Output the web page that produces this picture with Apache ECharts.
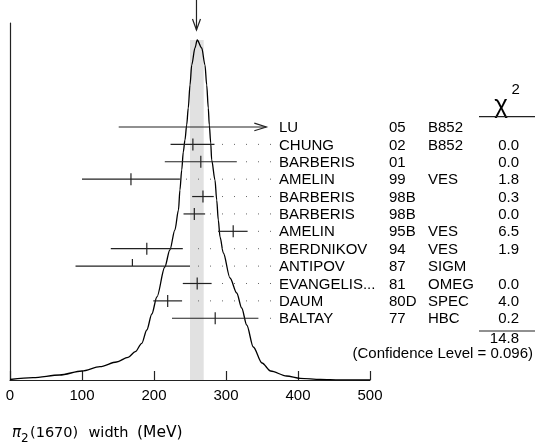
<!DOCTYPE html>
<html><head><meta charset="utf-8">
<script src="https://cdn.jsdelivr.net/npm/echarts@6/dist/echarts.min.js"></script>
<style>html,body{margin:0;padding:0;background:#fff}#c{width:535px;height:446px}</style>
</head><body><div id="c"></div>
<script>
// ---- data ----
const names = ['LU','CHUNG','BARBERIS','AMELIN','BARBERIS','BARBERIS','AMELIN','BERDNIKOV','ANTIPOV','EVANGELIS...','DAUM','BALTAY'];
const years = ['05','02','01','99','98B','98B','95B','94','87','81','80D','77'];
const experiments = ['B852','B852','','VES','','','VES','VES','SIGM','OMEG','SPEC','HBC'];
const chi2 = ['','0.0','0.0','1.8','0.3','0.0','6.5','1.9','','0.0','4.0','0.2'];
const centralValues = [null,254,265,168,268,256,310,190,170,260,219,285];
const lowerEnds = [151,223,215,100,253,241,289,140,91,240,199,225];
const upperEnds = [356,284,315,236,283,271,330,240,250,280,239,345];
const markKinds = ['arrow','full','full','full','full','full','full','full','half','full','full','full'];
const chi2Total = '14.8';
const confidenceLevel = '0.096';
const fitValue = 259;
const bandLow = 250, bandHigh = 269;
const xTicks = [0,100,200,300,400,500];
const ideogramX = [0,32,69,100,125,148,164,174,183,190,197,204,215,222,229,234,236,238.5,240.7,243,245.4,247.6,250,252.4,256.9,260,266.3,270.8,273.2,275.4,276.8,278.8,280.1,284.7,287.1,289.3,291.7,296.3,305.6,314.9,321.8,328.8,337.9,350,362,384,403,431,458,500];
const ideogramY = [0.5,2.3,5,9,13.3,18,22.7,28.3,36.7,50,66,83,113,130,150,170,190,210,228,240,255,272,295,315,332,340,332,315,295,272,255,237,220,200,180,160,143,127,102,87,72,55,33,17,9,4,1.7,0.7,0.2,0];

// ---- layout ----
const FONT = 'Liberation Sans, Arial, sans-serif';
const FS = 15;
const COL_NAME = 279, COL_YEAR = 389, COL_EXP = 428, COL_CHI_R = 519;
const LEADER_END = 271;
const INK = '#222';

const chart = echarts.init(document.getElementById('c'), null, {renderer:'canvas'});

function txt(text, x, y, align, font){
  return {type:'text', style:{text:text, x:x, y:y, fill:'#000', font: font || (FS+'px '+FONT),
    align:align, verticalAlign:'middle', textAlign:align, textVerticalAlign:'middle'}};
}

function renderRow(params, api){
  const i = api.value(3);
  const y = api.coord([0, i])[1];
  const xl = api.coord([api.value(0), i])[0];
  const xh = api.coord([api.value(1), i])[0];
  const xc = api.coord([api.value(2), i])[0];
  const kind = markKinds[i];
  const ch = [];
  ch.push({type:'line', shape:{x1:xl,y1:y,x2:xh,y2:y}, style:{stroke:INK, lineWidth:1.2}});
  if (kind === 'arrow') {
    ch.push({type:'polyline', shape:{points:[[xh-12,y-3.8],[xh,y],[xh-12,y+3.8]]}, style:{stroke:INK, fill:'none', lineWidth:1.2}});
  } else {
    ch.push({type:'line', shape:{x1:xc,y1:y-(kind==='half'?7:6),x2:xc,y2:(kind==='half'?y:y+6)}, style:{stroke:INK,lineWidth:1.2}});
    if (LEADER_END > xh + 5) {
      ch.push({type:'line', shape:{x1:LEADER_END,y1:y,x2:xh+5,y2:y}, style:{stroke:'#666', lineWidth:1, lineDash:[1,11]}});
    }
  }
  const ty = y + 1;
  ch.push(txt(names[i], COL_NAME, ty, 'left'));
  ch.push(txt(years[i], COL_YEAR, ty, 'left'));
  if (experiments[i]) ch.push(txt(experiments[i], COL_EXP, ty, 'left'));
  if (chi2[i]) ch.push(txt(chi2[i], COL_CHI_R, ty, 'right'));
  return {type:'group', children: ch};
}

function renderFitArrow(params, api){
  const x = api.coord([api.value(0), 0])[0];
  return {type:'group', children:[
    {type:'line', shape:{x1:x,y1:0,x2:x,y2:30}, style:{stroke:INK,lineWidth:1.2}},
    {type:'polyline', shape:{points:[[x-4,19],[x,30],[x+4,19]]}, style:{stroke:INK,fill:'none',lineWidth:1.2}}
  ]};
}

const rowData = names.map((n,i)=>[lowerEnds[i], upperEnds[i], centralValues[i]==null?upperEnds[i]:centralValues[i], i]);
const curveData = ideogramX.map((x,i)=>[x, ideogramY[i]]);
const T = (text,x,y,align,font)=>txt(text,x,y,align,font);

const option = {
  animation:false,
  backgroundColor:'#fff',
  grid:{left:10, right:165, top:23, bottom:66, containLabel:false},
  xAxis:{type:'value', min:xTicks[0], max:xTicks[xTicks.length-1], interval:100,
    axisLine:{show:true, lineStyle:{color:INK, width:1.2}},
    axisTick:{show:true, inside:true, length:9, lineStyle:{color:INK, width:1.2}},
    axisLabel:{color:'#000', fontFamily:FONT, fontSize:FS, margin:8},
    splitLine:{show:false}},
  yAxis:[
    {type:'value', min:0, max:357, axisLine:{show:true, lineStyle:{color:INK,width:1.2}},
      axisTick:{show:false}, axisLabel:{show:false}, splitLine:{show:false}},
    {type:'value', min:-5.98, max:14.55, inverse:true, show:false, splitLine:{show:false}}
  ],
  series:[
    {type:'line', data:curveData, showSymbol:false, smooth:0.3, smoothMonotone:'x',
      lineStyle:{color:'#000', width:1.3}, z:3,
      markArea:{silent:true, itemStyle:{color:'#e1e1e1'},
        data:[[{xAxis:bandLow, yAxis:0},{xAxis:bandHigh, yAxis:340}]]}},
    {type:'custom', xAxisIndex:0, yAxisIndex:1, data:rowData, renderItem:renderRow, clip:false, z:5,
      encode:{x:[0,1,2], y:3}},
    {type:'custom', xAxisIndex:0, yAxisIndex:1, data:[[fitValue, 0]], renderItem:renderFitArrow, clip:false, z:5,
      encode:{x:0, y:1}}
  ],
  graphic:[
    T('χ', 501, 106, 'center', '26px Liberation Sans'),
    T('2', 511.5, 89.5, 'left'),
    {type:'line', shape:{x1:479,y1:116.7,x2:535,y2:116.7}, style:{stroke:INK,lineWidth:1.2}},
    {type:'line', shape:{x1:479,y1:331,x2:535,y2:331}, style:{stroke:INK,lineWidth:1.2}},
    T(chi2Total, COL_CHI_R, 339, 'right'),
    T('(Confidence Level = '+confidenceLevel+')', 533, 354, 'right'),
    T('π', 12, 433, 'left', 'italic 15px DejaVu Sans'),
    T('2', 21, 438.5, 'left', '12px DejaVu Sans'),
    T('(1670)', 30, 433, 'left', '14.5px DejaVu Sans'),
    T('width', 88.5, 433, 'left', '14.5px DejaVu Sans'),
    T('(MeV)', 137, 433, 'left', '15.5px DejaVu Sans')
  ]
};
chart.setOption(option);
</script></body></html>
